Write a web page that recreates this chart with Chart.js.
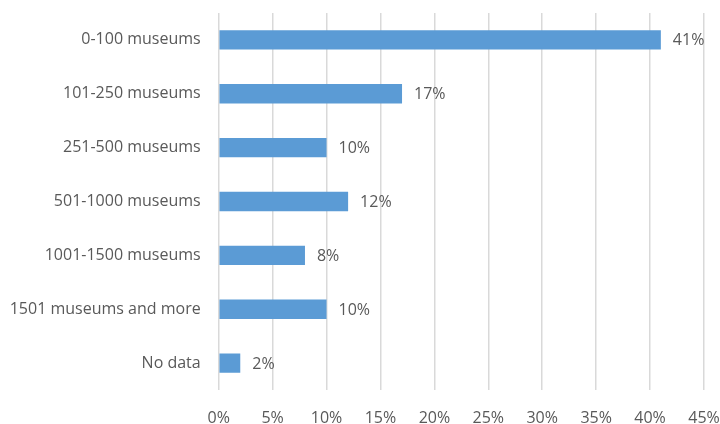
<!DOCTYPE html>
<html>
<head>
<meta charset="utf-8">
<script src="https://cdn.jsdelivr.net/npm/chart.js@4.4.1/dist/chart.umd.min.js"></script>
<style>
  html, body { margin: 0; padding: 0; background: #fff; }
  #wrap { width: 720px; height: 424px; }
</style>
</head>
<body>
<div id="wrap"><canvas id="chart"></canvas></div>
<script>
// Share of respondents by size of museum network
const categories = [
    '0-100 museums',
    '101-250 museums',
    '251-500 museums',
    '501-1000 museums',
    '1001-1500 museums',
    '1501 museums and more',
    'No data'
];
const shares = [41, 17, 10, 12, 8, 10, 2];
const xTicks = [0, 5, 10, 15, 20, 25, 30, 35, 40, 45];

const FONT = '"Open Sans", Lato, sans-serif';
const FONT_SIZE = 16;
const TEXT_COLOR = '#595959';

// Draws "NN%" just past the end of each bar
const barValueLabels = {
    id: 'barValueLabels',
    afterDatasetsDraw(chart) {
        const ctx = chart.ctx;
        const meta = chart.getDatasetMeta(0);
        ctx.save();
        ctx.font = FONT_SIZE + 'px ' + FONT;
        ctx.fillStyle = TEXT_COLOR;
        ctx.textAlign = 'left';
        ctx.textBaseline = 'middle';
        meta.data.forEach((bar, i) => {
            ctx.fillText(shares[i] + '%', bar.x + 12, bar.y + 1);
        });
        ctx.restore();
    }
};

new Chart(document.getElementById('chart'), {
    type: 'bar',
    data: {
        labels: categories,
        datasets: [{
            data: shares,
            backgroundColor: '#5b9bd5',
            borderWidth: 0,
            barPercentage: 0.36,
            categoryPercentage: 1.0
        }]
    },
    options: {
        indexAxis: 'y',
        responsive: true,
        maintainAspectRatio: false,
        animation: false,
        layout: { padding: { top: 13, right: 16, bottom: 0, left: 0 } },
        scales: {
            x: {
                min: 0,
                max: 45,
                afterBuildTicks(scale) {
                    scale.ticks = xTicks.map(v => ({ value: v }));
                },
                afterFit(scale) {
                    scale.height = 34;
                    scale.paddingLeft = 0;
                    scale.paddingRight = 0;
                },
                grid: { color: '#d9d9d9', lineWidth: 1.5, drawTicks: false },
                border: { display: false },
                ticks: {
                    padding: 19,
                    color: TEXT_COLOR,
                    font: { family: FONT, size: FONT_SIZE },
                    callback: v => v + '%'
                }
            },
            y: {
                afterFit(scale) {
                    scale.width = 218.7;
                    scale.paddingTop = 0;
                    scale.paddingBottom = 0;
                },
                grid: { display: false, drawTicks: false },
                border: { display: false },
                ticks: {
                    padding: 18,
                    color: TEXT_COLOR,
                    font: { family: FONT, size: FONT_SIZE }
                }
            }
        },
        plugins: {
            legend: { display: false },
            tooltip: { enabled: false }
        }
    },
    plugins: [barValueLabels]
});
</script>
</body>
</html>
